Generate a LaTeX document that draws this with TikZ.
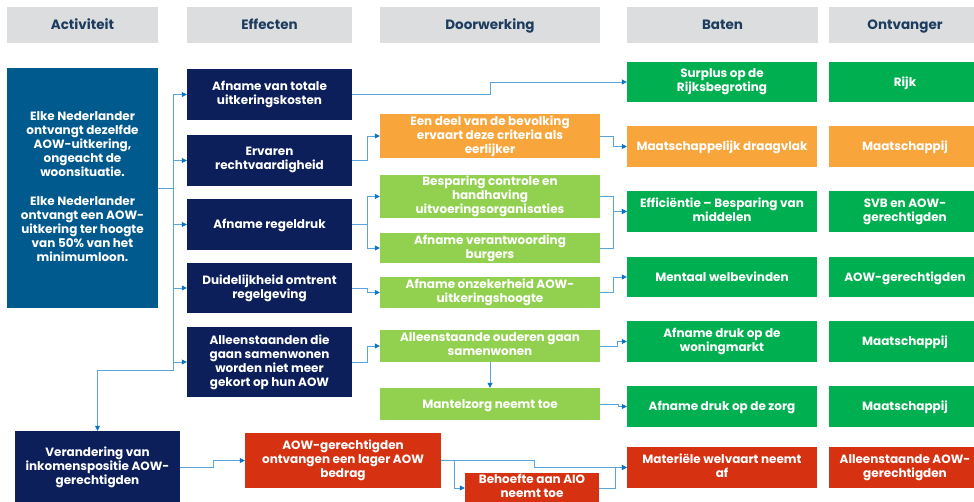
\documentclass[tikz,border=0pt]{standalone}
\usepackage{fontspec}
\setmainfont{Poppins}
\usetikzlibrary{arrows.meta}
\definecolor{hdrgray}{HTML}{DCDDDE}
\definecolor{hdrtext}{HTML}{1D3C5E}
\definecolor{actblue}{HTML}{015A8D}
\definecolor{navy}{HTML}{0C1F5B}
\definecolor{orng}{HTML}{F8A53B}
\definecolor{lgreen}{HTML}{92D14F}
\definecolor{dgreen}{HTML}{00B050}
\definecolor{redc}{HTML}{D63212}
\definecolor{linec}{HTML}{5BA3DB}
\definecolor{arrc}{HTML}{0A74C4}
\begin{document}
\begin{tikzpicture}[x=1pt,y=-1pt,
  box/.style={inner sep=1pt, align=center, text=white, font=\fontsize{12}{14}\selectfont\bfseries,
    execute at begin node={\rule{0pt}{12pt}}, execute at end node={\rule[-3.5pt]{0pt}{0pt}}},
  hdr/.style={box, fill=hdrgray, text=hdrtext, font=\fontsize{13.5}{15}\selectfont\bfseries, minimum height=36pt,
    execute at begin node={\rule{0pt}{13pt}}},
  actbox/.style={box, fill=actblue},
  nvbox/.style={box, fill=navy},
  orbox/.style={box, fill=orng},
  lgbox/.style={box, fill=lgreen},
  grbox/.style={box, fill=dgreen},
  rdbox/.style={box, fill=redc},
  efw/.style={minimum width=165pt},
  dww/.style={minimum width=220pt},
  btw/.style={minimum width=190pt, minimum height=41pt},
  onw/.style={minimum width=152pt, minimum height=41pt},
  conn/.style={draw=linec, line width=0.8pt, -{Triangle[length=5pt,width=5pt,color=arrc]}},
  ln/.style={draw=linec, line width=0.8pt}]
\useasboundingbox (0,0) rectangle (974,502);
% headers
\node[hdr, minimum width=151pt] (h1) at (82.5,25) {Activiteit};
\node[hdr, minimum width=165pt] (h2) at (269.5,25) {Effecten};
\node[hdr, minimum width=220pt] (h3) at (490,25) {Doorwerking};
\node[hdr, minimum width=191pt] (h4) at (722.5,25) {Baten};
\node[hdr, minimum width=152pt] (h5) at (905,25) {Ontvanger};
% activiteit
\node[actbox, minimum width=151pt, minimum height=240pt] (a1) at (82.5,188) {Elke Nederlander\\ontvangt dezelfde\\AOW-uitkering,\\ongeacht de\\woonsituatie.\\[15pt]Elke Nederlander\\ontvangt een AOW-\\uitkering ter hoogte\\van 50\% van het\\minimumloon.};
\node[nvbox, minimum width=165pt, minimum height=72pt] (v1) at (97.5,467) {Verandering van\\inkomenspositie AOW-\\gerechtigden};
% effecten
\node[nvbox, efw, minimum height=51pt] (e1) at (269.5,94.5) {Afname van totale\\uitkeringskosten};
\node[nvbox, efw, minimum height=51pt] (e2) at (269.5,160.5) {Ervaren\\rechtvaardigheid};
\node[nvbox, efw, minimum height=51pt] (e3) at (269.5,224.5) {Afname regeldruk};
\node[nvbox, efw, minimum height=50pt] (e4) at (269.5,288) {Duidelijkheid omtrent\\regelgeving};
\node[nvbox, efw, minimum height=70pt] (e5) at (269.5,362) {Alleenstaanden die\\gaan samenwonen\\worden niet meer\\gekort op hun AOW};
% doorwerking
\node[orbox, dww, minimum height=44pt] (d1) at (490,136) {Een deel van de bevolking\\ervaart deze criteria als\\eerlijker};
\node[lgbox, dww, minimum height=43pt] (d2) at (490,196.5) {Besparing controle en\\handhaving\\uitvoeringsorganisaties};
\node[lgbox, dww, minimum height=30pt] (d3) at (490,248) {Afname verantwoording\\burgers};
\node[lgbox, dww, minimum height=31pt] (d4) at (490,292.5) {Afname onzekerheid AOW-\\uitkeringshoogte};
\node[lgbox, dww, minimum height=32pt] (d5) at (490,346) {Alleenstaande ouderen gaan\\samenwonen};
\node[lgbox, dww, minimum height=32pt] (d6) at (490,404) {Mantelzorg neemt toe};
\node[rdbox, minimum width=196pt, minimum height=55pt] (r1) at (343,460.5) {AOW-gerechtigden\\ontvangen een lager AOW\\bedrag};
\node[rdbox, minimum width=134pt, minimum height=30pt] (r2) at (532,488) {Behoefte aan AIO\\neemt toe};
% baten
\node[grbox, btw, minimum height=40pt] (b1) at (722,82) {Surplus op de\\Rijksbegroting};
\node[orbox, btw] (b2) at (722,146.5) {Maatschappelijk draagvlak};
\node[grbox, btw] (b3) at (722,211.5) {Efficiëntie – Besparing van\\middelen};
\node[grbox, btw, minimum height=40pt] (b4) at (722,277) {Mentaal welbevinden};
\node[grbox, btw] (b5) at (722,341.5) {Afname druk op de\\woningmarkt};
\node[grbox, btw] (b6) at (722,406.5) {Afname druk op de zorg};
\node[rdbox, btw] (b7) at (722,467.5) {Materiële welvaart neemt\\af};
% ontvanger
\node[grbox, onw, minimum height=40pt] (o1) at (905,82) {Rijk};
\node[orbox, onw] (o2) at (905,146.5) {Maatschappij};
\node[grbox, onw] (o3) at (905,211.5) {SVB en AOW-\\gerechtigden};
\node[grbox, onw, minimum height=40pt] (o4) at (905,277) {AOW-gerechtigden};
\node[grbox, onw] (o5) at (905,341.5) {Maatschappij};
\node[grbox, onw] (o6) at (905,406.5) {Maatschappij};
\node[rdbox, onw] (o7) at (905,467.5) {Alleenstaande AOW-\\gerechtigden};
% connectors
\coordinate (t1) at (173,188);
\coordinate (t2) at (173,370);
\draw[ln] (a1.east) -- (t1);
\draw[conn] (t1) |- (e1.west);
\draw[conn] (t1) |- (e2.west);
\draw[conn] (t1) |- (e3.west);
\draw[conn] (t1) |- (e4.west);
\draw[conn] (t1) |- (e5.west);
\draw[conn] (t1) -- (t2) -| (v1.north);
\draw[conn] (e1.east) -- ++(138,0) |- (b1.west);
\draw[conn] (e2.east) -- ++(15,0) |- (d1.west);
\draw[conn] (d1.east) -- ++(13,0) |- (b2.west);
\draw[conn] (e3.east) -- ++(15,0) |- (d2.west);
\draw[conn] (e3.east) -- ++(15,0) |- (d3.west);
\draw[conn] (e4.east) -- ++(15,0) |- (d4.west);
\draw[conn] (d2.east) -- ++(13,0) |- (b3.west);
\draw[conn] (d3.east) -- ++(13,0) |- (b3.west);
\draw[conn] (d4.east) -- ++(13,0) |- (b4.west);
\draw[conn] (e5.east) -- ++(15,0) |- (d5.west);
\draw[conn] (d5.east) -- ++(17,0) |- (b5.west);
\draw[conn] (d5.south) -- (d6.north);
\draw[conn] (d6.east) -- ++(18,0) |- (b6.west);
\draw[conn] (v1.east) -- ++(33,0) |- (r1.west);
\draw[conn] (r1.east) -- ++(93,0) |- (b7.west);
\draw[conn] (r1.east) -- ++(13,0) |- (r2.west);
\draw[conn] (r2.east) -- ++(16,0) |- (b7.west);
\end{tikzpicture}
\end{document}
